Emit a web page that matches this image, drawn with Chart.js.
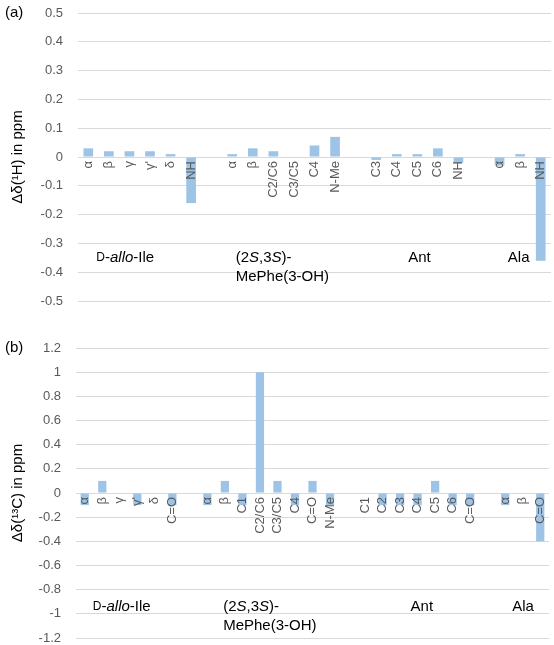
<!DOCTYPE html>
<html>
<head>
<meta charset="utf-8">
<script src="https://cdn.jsdelivr.net/npm/chart.js@4.4.1/dist/chart.umd.min.js"></script>
<style>
  html, body { margin: 0; padding: 0; background: #fff; overflow: hidden; }
  canvas { position: absolute; left: 0; display: block; }
  #chartA { top: 0; }
  #chartB { top: 322px; }
</style>
</head>
<body>
<canvas id="chartA" width="554" height="318"></canvas>
<canvas id="chartB" width="554" height="323"></canvas>
<script>
// (a) proton shifts
const labelsA = ['α', 'β', 'γ', "γ'", 'δ', 'NH', '',
                 'α', 'β', 'C2/C6', 'C3/C5', 'C4', 'N-Me', '',
                 'C3', 'C4', 'C5', 'C6', 'NH', '',
                 'α', 'β', 'NH'];
const valuesA = [0.03, 0.02, 0.02, 0.02, 0.01, -0.16, null,
                 0.01, 0.03, 0.02, 0, 0.04, 0.07, null,
                 -0.01, 0.01, 0.01, 0.03, -0.02, null,
                 -0.03, 0.01, -0.36];
const ticksA = [-0.5, -0.4, -0.3, -0.2, -0.1, 0, 0.1, 0.2, 0.3, 0.4, 0.5];

// (b) carbon shifts
const labelsB = ['α', 'β', 'γ', "γ'", 'δ', 'C=O', '',
                 'α', 'β', 'C1', 'C2/C6', 'C3/C5', 'C4', 'C=O', 'N-Me', '',
                 'C1', 'C2', 'C3', 'C4', 'C5', 'C6', 'C=O', '',
                 'α', 'β', 'C=O'];
const valuesB = [-0.1, 0.1, 0, -0.1, 0, -0.1, null,
                 -0.1, 0.1, -0.1, 1, 0.1, -0.1, 0.1, -0.1, null,
                 0, -0.1, -0.1, -0.1, 0.1, -0.1, -0.1, null,
                 -0.1, 0, -0.4];
const ticksB = [-1.2, -1, -0.8, -0.6, -0.4, -0.2, 0, 0.2, 0.4, 0.6, 0.8, 1, 1.2];

// residue names (text runs: '' normal, 'i' italic, 'sc' small capital)
const residueIle = [[['D', 'sc'], ['-', ''], ['allo', 'i'], ['-Ile', '']]];
const residuePhe = [[['(2', ''], ['S', 'i'], [',3', ''], ['S', 'i'], [')-', '']], [['MePhe(3-OH)', '']]];
const residueAnt = [[['Ant', '']]];
const residueAla = [[['Ala', '']]];

const FONT = '"Liberation Sans", Arial, sans-serif';

function fontFor(style) {
  if (style === 'i') return 'italic 15px ' + FONT;
  if (style === 'sc') return '12px ' + FONT;
  return '15px ' + FONT;
}

const overlay = {
  id: 'overlay',
  afterDatasetsDraw(chart, args, o) {
    const ctx = chart.ctx;
    const x = chart.scales.x, y = chart.scales.y;
    const area = chart.chartArea;
    const y0 = y.getPixelForValue(0);
    ctx.save();

    // category labels, rotated, hanging below the zero line
    ctx.fillStyle = '#595959';
    ctx.font = '13px ' + FONT;
    ctx.textAlign = 'right';
    ctx.textBaseline = 'middle';
    chart.data.labels.forEach((lab, i) => {
      if (!lab) return;
      ctx.save();
      ctx.translate(x.getPixelForValue(i), y0 + 4);
      ctx.rotate(-Math.PI / 2);
      ctx.fillText(lab, 0, 0);
      ctx.restore();
    });

    // residue names
    ctx.fillStyle = '#000';
    ctx.textAlign = 'left';
    o.groups.forEach(g => {
      let py = y.getPixelForValue(g.y);
      g.lines.forEach(line => {
        let px = x.getPixelForValue(g.at);
        line.forEach(([t, st]) => {
          ctx.font = fontFor(st);
          ctx.fillText(t, px, py);
          px += ctx.measureText(t).width;
        });
        py += 19;
      });
    });

    // axis title and panel letter
    ctx.font = '15px ' + FONT;
    ctx.textAlign = 'center';
    ctx.save();
    ctx.translate(18, (area.top + area.bottom) / 2);
    ctx.rotate(-Math.PI / 2);
    ctx.fillText(o.title, 0, 0);
    ctx.restore();
    ctx.textAlign = 'left';
    ctx.fillText(o.panel, 5, area.top);
    ctx.restore();
  }
};

function makeChart(id, labels, values, ticks, yw, area, extra) {
  return new Chart(document.getElementById(id), {
    type: 'bar',
    data: {
      labels: labels,
      datasets: [{
        data: values,
        backgroundColor: '#9dc3e6',
        borderWidth: 0,
        barPercentage: 0.47,
        categoryPercentage: 1
      }]
    },
    options: {
      responsive: false,
      animation: false,
      devicePixelRatio: 1,
      layout: { padding: { top: area.top, bottom: area.bottom, left: 0, right: area.right } },
      plugins: {
        legend: { display: false },
        tooltip: { enabled: false },
        overlay: extra
      },
      scales: {
        x: { display: false, offset: true },
        y: {
          min: ticks[0],
          max: ticks[ticks.length - 1],
          afterBuildTicks: s => { s.ticks = ticks.map(v => ({ value: v })); },
          // fixed axis width; don't let the label gap push the plot inwards
          afterFit: s => { s.width = yw; s.paddingTop = 0; s.paddingBottom = 0; },
          border: { display: false },
          grid: { color: '#d9d9d9', lineWidth: 1, drawTicks: false },
          ticks: {
            color: '#595959',
            font: { size: 13, family: FONT },
            padding: 15,
            callback: v => String(Math.round(v * 10) / 10)
          }
        }
      }
    },
    plugins: [overlay]
  });
}

makeChart('chartA', labelsA, valuesA, ticksA, 78, { top: 13, bottom: 17, right: 3 }, {
  title: 'Δδ(¹H) in ppm',
  panel: '(a)',
  groups: [
    { at: 0.39, y: -0.35, lines: residueIle },
    { at: 7.17, y: -0.35, lines: residuePhe },
    { at: 15.56, y: -0.35, lines: residueAnt },
    { at: 20.4, y: -0.35, lines: residueAla }
  ]
});

makeChart('chartB', labelsB, valuesB, ticksB, 76, { top: 26, bottom: 7, right: 5 }, {
  title: 'Δδ(¹³C) in ppm',
  panel: '(b)',
  groups: [
    { at: 0.46, y: -0.94, lines: residueIle },
    { at: 7.9, y: -0.94, lines: residuePhe },
    { at: 18.6, y: -0.94, lines: residueAnt },
    { at: 24.4, y: -0.94, lines: residueAla }
  ]
});
</script>
</body>
</html>
